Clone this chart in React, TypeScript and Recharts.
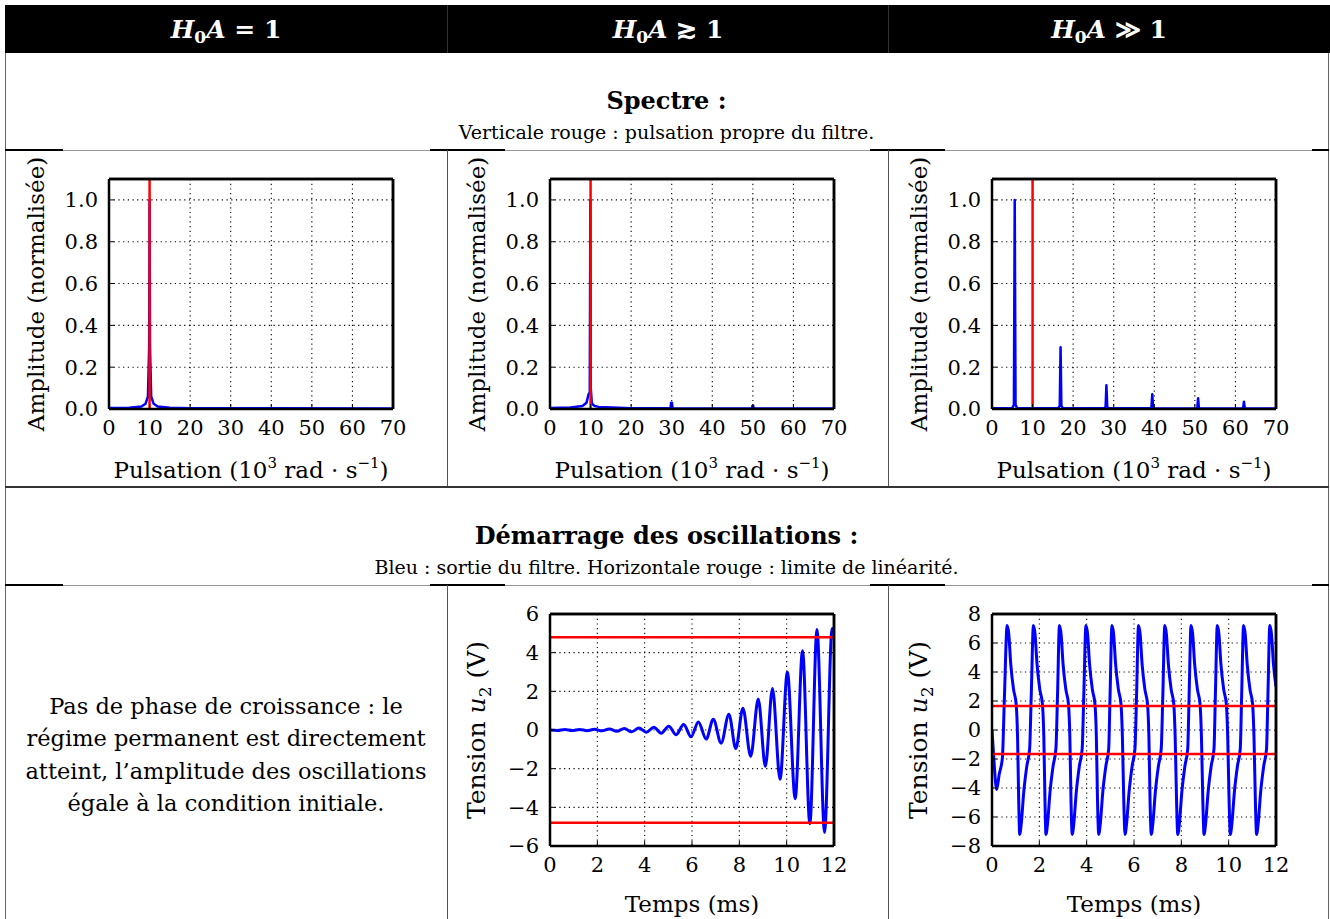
import React from 'react';
import { LineChart, Line, XAxis, YAxis, CartesianGrid, ReferenceLine } from 'recharts';

const FONT = '"DejaVu Serif", "Liberation Serif", serif';

// ---------- tick labels ----------
const pulsationTicks = [0, 10, 20, 30, 40, 50, 60, 70];
const amplitudeTicks = [0, 0.2, 0.4, 0.6, 0.8, 1.0];
const timeTicks = [0, 2, 4, 6, 8, 10, 12];
const tensionTicksA = [-6, -4, -2, 0, 2, 4, 6];
const tensionTicksB = [-8, -6, -4, -2, 0, 2, 4, 6, 8];

// ---------- header / texts ----------
const headerRelations = ['=', '\u2273', '\u226B'];
const spectreTitle = 'Spectre :';
const spectreSub = 'Verticale rouge : pulsation propre du filtre.';
const demarrageTitle = 'Démarrage des oscillations :';
const demarrageSub = 'Bleu : sortie du filtre. Horizontale rouge : limite de linéarité.';
const leftParagraph = [
  'Pas de phase de croissance : le',
  'régime permanent est directement',
  'atteint, l\u2019amplitude des oscillations',
  'égale à la condition initiale.',
];

// ---------- spectrum H0A = 1 ----------
const spec1Omega = [0, 5, 8, 9, 9.6, 9.9, 10, 10.1, 10.4, 11, 12, 15, 20, 40, 70];
const spec1Amp = [0.005, 0.006, 0.012, 0.025, 0.06, 0.3, 1.0, 0.3, 0.06, 0.025, 0.012, 0.006, 0.004, 0.003, 0.002];

// ---------- spectrum H0A >~ 1 ----------
const spec2Omega = [0, 5, 8, 9, 9.5, 9.8, 9.95, 10.05, 10.3, 10.6, 11, 12, 20, 29.7, 29.85, 30.05, 30.2, 49.8, 49.9, 50.1, 50.2, 70];
const spec2Amp = [0.005, 0.007, 0.014, 0.03, 0.07, 0.08, 1.0, 0.1, 0.03, 0.02, 0.015, 0.01, 0.004, 0.004, 0.03, 0.03, 0.004, 0.002, 0.015, 0.015, 0.002, 0.002];

// ---------- spectrum H0A >> 1 ----------
const spec3Omega = [0, 5.0, 5.4, 5.6, 5.8, 6.2, 16.3, 16.7, 16.9, 17.1, 17.5, 27.6, 28.0, 28.2, 28.4, 28.8, 38.9, 39.3, 39.5, 39.7, 40.1, 50.2, 50.6, 50.8, 51.0, 51.4, 61.5, 61.9, 62.1, 62.3, 62.7, 70];
const spec3Amp = [0.004, 0.005, 0.02, 1.0, 0.02, 0.005, 0.004, 0.015, 0.295, 0.015, 0.004, 0.003, 0.01, 0.113, 0.01, 0.003, 0.003, 0.008, 0.07, 0.008, 0.003, 0.002, 0.006, 0.051, 0.006, 0.002, 0.002, 0.005, 0.035, 0.005, 0.002, 0.002];

const filterOmega = 10;

// ---------- start-up H0A >~ 1 ----------
const osc1Time = [0, 0.31, 0.63, 0.94, 1.25, 1.57, 1.88, 2.19, 2.51, 2.82, 3.14, 3.45, 3.76, 4.07, 4.39, 4.70, 5.02, 5.33, 5.65, 5.96, 6.27, 6.60, 6.90, 7.23, 7.56, 7.85, 8.15, 8.48, 8.80, 9.10, 9.40, 9.72, 10.03, 10.36, 10.67, 10.98, 11.28, 11.60, 11.92, 12.0];
const osc1Volt = [0, -0.025, 0.025, -0.03, 0.03, -0.035, 0.04, -0.045, 0.055, -0.065, 0.075, -0.09, 0.1, -0.12, 0.14, -0.17, 0.2, -0.24, 0.29, -0.35, 0.42, -0.47, 0.56, -0.68, 0.82, -0.96, 1.12, -1.36, 1.6, -1.88, 2.15, -2.55, 3.0, -3.55, 4.1, -4.85, 5.2, -5.3, 5.25, 5.1];
const osc1Limit = 4.8;

// ---------- start-up H0A >> 1 ----------
const osc2Time = [
  0, 0.07, 0.20, 0.30, 0.44, 0.52, 0.64,
  0.71, 0.79, 0.91, 1.02, 1.08, 1.13, 1.17, 1.24, 1.34, 1.47, 1.59, 1.66, 1.75,
  1.82, 1.90, 2.02, 2.13, 2.19, 2.24, 2.28, 2.35, 2.45, 2.58, 2.70, 2.77, 2.85,
  2.92, 3.00, 3.12, 3.23, 3.29, 3.34, 3.39, 3.46, 3.56, 3.69, 3.81, 3.88, 3.97,
  4.04, 4.12, 4.24, 4.35, 4.41, 4.46, 4.51, 4.58, 4.68, 4.81, 4.93, 4.99, 5.07,
  5.14, 5.22, 5.34, 5.45, 5.51, 5.57, 5.62, 5.69, 5.79, 5.92, 6.04, 6.11, 6.19,
  6.26, 6.34, 6.46, 6.57, 6.63, 6.68, 6.73, 6.80, 6.90, 7.03, 7.15, 7.22, 7.30,
  7.37, 7.45, 7.57, 7.68, 7.74, 7.80, 7.85, 7.92, 8.02, 8.15, 8.27, 8.33, 8.41,
  8.48, 8.56, 8.68, 8.79, 8.85, 8.91, 8.96, 9.03, 9.13, 9.26, 9.38, 9.44, 9.52,
  9.59, 9.67, 9.79, 9.90, 9.96, 10.02, 10.07, 10.14, 10.24, 10.37, 10.49, 10.55, 10.63,
  10.70, 10.78, 10.90, 11.01, 11.07, 11.13, 11.18, 11.25, 11.35, 11.48, 11.60, 11.66, 11.74,
  11.81, 11.89, 12.0,
];
const osc2Volt = [
  0, -1.8, -4.1, -3.1, -1.9, 2.0, 7.2,
  6.6, 4.6, 2.8, 1.8, -0.5, -5.0, -7.2, -6.4, -4.3, -2.5, -1.3, 2.5, 7.2,
  6.6, 4.6, 2.8, 1.8, -0.5, -5.0, -7.2, -6.4, -4.3, -2.5, -1.3, 2.5, 7.2,
  6.6, 4.6, 2.8, 1.8, -0.5, -5.0, -7.2, -6.4, -4.3, -2.5, -1.3, 2.5, 7.2,
  6.6, 4.6, 2.8, 1.8, -0.5, -5.0, -7.2, -6.4, -4.3, -2.5, -1.3, 2.5, 7.2,
  6.6, 4.6, 2.8, 1.8, -0.5, -5.0, -7.2, -6.4, -4.3, -2.5, -1.3, 2.5, 7.2,
  6.6, 4.6, 2.8, 1.8, -0.5, -5.0, -7.2, -6.4, -4.3, -2.5, -1.3, 2.5, 7.2,
  6.6, 4.6, 2.8, 1.8, -0.5, -5.0, -7.2, -6.4, -4.3, -2.5, -1.3, 2.5, 7.2,
  6.6, 4.6, 2.8, 1.8, -0.5, -5.0, -7.2, -6.4, -4.3, -2.5, -1.3, 2.5, 7.2,
  6.6, 4.6, 2.8, 1.8, -0.5, -5.0, -7.2, -6.4, -4.3, -2.5, -1.3, 2.5, 7.2,
  6.6, 4.6, 2.8, 1.8, -0.5, -5.0, -7.2, -6.4, -4.3, -2.5, -1.3, 2.5, 7.2,
  6.6, 4.6, 3.0,
];
const osc2Limit = 1.65;

type Pt = { x: number; y: number };
const zip = (xs: number[], ys: number[]): Pt[] => xs.map((x, i) => ({ x, y: ys[i] }));

const fmtAmp = (v: number) => v.toFixed(1);
const fmtInt = (v: number) => (v < 0 ? '\u2212' + Math.abs(v) : String(v));

const ML = 100;
const MT = 32;
const MR = 20;
const XH = 80;
const BLUE = '#0000ff';
const RED = '#ff0000';

type PanelProps = {
  left: number;
  top: number;
  plotW: number;
  plotH: number;
  data: Pt[];
  xDomain: [number, number];
  xTicks: number[];
  yDomain: [number, number];
  yTicks: number[];
  yFmt: (v: number) => string;
  curve: 'linear' | 'monotone';
  vLines: number[];
  hLines: number[];
  xLabel: 'pulsation' | 'temps';
  yLabel: 'amplitude' | 'tension';
  xLabelGap: number;
  lineWidth: number;
};

function Panel(p: PanelProps) {
  const W = ML + p.plotW + MR;
  const H = MT + p.plotH + XH;
  const frame = { stroke: '#000', strokeWidth: 2.5 };
  const tickStyle = { fill: '#000', fontSize: 21, fontFamily: FONT };
  const cx = ML + p.plotW / 2;
  const xly = MT + p.plotH + p.xLabelGap;
  const ylx = ML - 65;
  const yly = MT + p.plotH / 2;
  const xLabelEl = () =>
    p.xLabel === 'pulsation' ? (
      <text x={cx} y={xly} textAnchor="middle" fontFamily={FONT} fontSize={23} fill="#000">
        Pulsation (10
        <tspan dy={-10} fontSize={15}>3</tspan>
        <tspan dy={10}> rad · s</tspan>
        <tspan dy={-10} fontSize={15}>−1</tspan>
        <tspan dy={10}>)</tspan>
      </text>
    ) : (
      <text x={cx} y={xly} textAnchor="middle" fontFamily={FONT} fontSize={23} fill="#000">
        Temps (ms)
      </text>
    );
  const yLabelEl = () =>
    p.yLabel === 'amplitude' ? (
      <text x={ylx} y={yly} transform={`rotate(-90 ${ylx} ${yly})`} textAnchor="middle" fontFamily={FONT} fontSize={23} fill="#000">
        Amplitude (normalisée)
      </text>
    ) : (
      <text x={ylx} y={yly} transform={`rotate(-90 ${ylx} ${yly})`} textAnchor="middle" fontFamily={FONT} fontSize={25} fill="#000">
        Tension <tspan fontStyle="italic">u</tspan>
        <tspan dy={6} fontSize={17}>2</tspan>
        <tspan dy={-6}> (V)</tspan>
      </text>
    );
  return (
    <div style={{ position: 'absolute', left: p.left - ML, top: p.top - MT, width: W, height: H }}>
      <LineChart width={W} height={H} data={p.data} margin={{ top: MT - 1, right: MR - 1, left: 0, bottom: 0 }}>
        <CartesianGrid stroke="#000" strokeDasharray="1.2 3.5" strokeWidth={1.1} />
        <XAxis
          dataKey="x"
          type="number"
          domain={p.xDomain}
          ticks={p.xTicks}
          allowDataOverflow
          interval={0}
          height={XH}
          tickSize={-5}
          tickMargin={16}
          axisLine={frame}
          tickLine={{ stroke: '#000', strokeWidth: 1 }}
          tick={tickStyle}
          label={xLabelEl}
        />
        <XAxis
          xAxisId="top"
          orientation="top"
          type="number"
          domain={p.xDomain}
          ticks={p.xTicks}
          allowDataOverflow
          interval={0}
          height={1}
          tickSize={-5}
          axisLine={frame}
          tickLine={{ stroke: '#000', strokeWidth: 1 }}
          tick={false}
        />
        <YAxis
          type="number"
          domain={p.yDomain}
          ticks={p.yTicks}
          allowDataOverflow
          interval={0}
          width={ML}
          tickSize={-5}
          tickMargin={16}
          tickFormatter={p.yFmt}
          axisLine={frame}
          tickLine={{ stroke: '#000', strokeWidth: 1 }}
          tick={tickStyle}
          label={yLabelEl}
        />
        <YAxis
          yAxisId="right"
          orientation="right"
          type="number"
          domain={p.yDomain}
          ticks={p.yTicks}
          allowDataOverflow
          interval={0}
          width={1}
          tickSize={-5}
          axisLine={frame}
          tickLine={{ stroke: '#000', strokeWidth: 1 }}
          tick={false}
        />
        <Line
          dataKey="y"
          type={p.curve}
          stroke={BLUE}
          strokeWidth={p.lineWidth}
          strokeLinejoin="round"
          dot={false}
          activeDot={false}
          isAnimationActive={false}
        />
        {p.vLines.map((v) => (
          <ReferenceLine key={'v' + v} x={v} stroke={RED} strokeWidth={2.5} />
        ))}
        {p.hLines.map((v) => (
          <ReferenceLine key={'h' + v} y={v} stroke={RED} strokeWidth={2.5} />
        ))}
        <ReferenceLine x={p.xDomain[1]} stroke="#000" strokeWidth={2.5} />
        <ReferenceLine y={p.yDomain[1]} stroke="#000" strokeWidth={2.5} />
      </LineChart>
    </div>
  );
}

const abs = (l: number, t: number, w: number, h: number, bg: string): React.CSSProperties => ({
  position: 'absolute',
  left: l,
  top: t,
  width: w,
  height: h,
  background: bg,
});

function HeaderLabel({ rel, center }: { rel: string; center: number }) {
  return (
    <div
      style={{
        position: 'absolute',
        left: center - 150,
        width: 300,
        top: 14,
        lineHeight: '32px',
        textAlign: 'center',
        color: '#fff',
        fontFamily: FONT,
        fontWeight: 'bold',
        fontSize: 25,
      }}
    >
      <span style={{ fontStyle: 'italic' }}>H</span>
      <span style={{ fontSize: 17, position: 'relative', top: 5 }}>0</span>
      <span style={{ fontStyle: 'italic' }}>A</span> {rel} 1
    </div>
  );
}

function CenterText({ text, y, size, bold }: { text: string; y: number; size: number; bold?: boolean }) {
  return (
    <div
      style={{
        position: 'absolute',
        left: 5,
        width: 1323,
        top: y - 15,
        lineHeight: '30px',
        textAlign: 'center',
        fontFamily: FONT,
        fontWeight: bold ? 'bold' : 'normal',
        fontSize: size,
        color: '#000',
      }}
    >
      {text}
    </div>
  );
}

export default function App() {
  const colCenters = [226, 668, 1109];
  return (
    <div style={{ position: 'absolute', left: 0, top: 0, width: 1330, height: 919, background: '#fff', overflow: 'hidden' }}>
      {/* header band */}
      <div style={abs(5, 5, 1325, 48, '#000')} />
      <div style={abs(447, 5, 1, 48, '#333')} />
      <div style={abs(888, 5, 1, 48, '#333')} />
      {headerRelations.map((r, i) => (
        <HeaderLabel key={i} rel={r} center={colCenters[i]} />
      ))}

      {/* table borders */}
      <div style={abs(5, 53, 1, 866, '#666')} />
      <div style={abs(1328, 53, 1, 866, '#666')} />
      <div style={abs(5, 150, 1323, 1, '#999')} />
      <div style={abs(5, 149, 58, 2, '#000')} />
      <div style={abs(430, 149, 75, 2, '#000')} />
      <div style={abs(870, 149, 75, 2, '#000')} />
      <div style={abs(1312, 149, 17, 2, '#000')} />
      <div style={abs(447, 150, 1, 337, '#555')} />
      <div style={abs(888, 150, 1, 337, '#555')} />
      <div style={abs(5, 486, 1324, 2, '#333')} />
      <div style={abs(5, 585, 1323, 1, '#999')} />
      <div style={abs(5, 584, 58, 2, '#000')} />
      <div style={abs(430, 584, 75, 2, '#000')} />
      <div style={abs(870, 584, 75, 2, '#000')} />
      <div style={abs(1312, 584, 17, 2, '#000')} />
      <div style={abs(447, 585, 1, 334, '#555')} />
      <div style={abs(888, 585, 1, 334, '#555')} />

      {/* row titles */}
      <CenterText text={spectreTitle} y={101} size={24} bold />
      <CenterText text={spectreSub} y={132} size={19} />
      <CenterText text={demarrageTitle} y={536} size={24} bold />
      <CenterText text={demarrageSub} y={567} size={19} />

      {/* left paragraph */}
      <div
        style={{
          position: 'absolute',
          left: 5,
          width: 442,
          top: 690,
          lineHeight: '32.3px',
          textAlign: 'center',
          fontFamily: FONT,
          fontSize: 22.5,
          color: '#000',
          whiteSpace: 'nowrap',
        }}
      >
        {leftParagraph.map((l, i) => (
          <div key={i}>{l}</div>
        ))}
      </div>

      {/* spectra */}
      <Panel left={109} top={179} plotW={284} plotH={230} data={zip(spec1Omega, spec1Amp)} xDomain={[0, 70]} xTicks={pulsationTicks}
        yDomain={[0, 1.1]} yTicks={amplitudeTicks} yFmt={fmtAmp} curve="linear" vLines={[filterOmega]} hLines={[]}
        xLabel="pulsation" yLabel="amplitude" xLabelGap={69} lineWidth={2.5} />
      <Panel left={550} top={179} plotW={284} plotH={230} data={zip(spec2Omega, spec2Amp)} xDomain={[0, 70]} xTicks={pulsationTicks}
        yDomain={[0, 1.1]} yTicks={amplitudeTicks} yFmt={fmtAmp} curve="linear" vLines={[filterOmega]} hLines={[]}
        xLabel="pulsation" yLabel="amplitude" xLabelGap={69} lineWidth={2.5} />
      <Panel left={992} top={179} plotW={284} plotH={230} data={zip(spec3Omega, spec3Amp)} xDomain={[0, 70]} xTicks={pulsationTicks}
        yDomain={[0, 1.1]} yTicks={amplitudeTicks} yFmt={fmtAmp} curve="linear" vLines={[filterOmega]} hLines={[]}
        xLabel="pulsation" yLabel="amplitude" xLabelGap={69} lineWidth={2.5} />

      {/* start-up */}
      <Panel left={550} top={614} plotW={284} plotH={232} data={zip(osc1Time, osc1Volt)} xDomain={[0, 12]} xTicks={timeTicks}
        yDomain={[-6, 6]} yTicks={tensionTicksA} yFmt={fmtInt} curve="monotone" vLines={[]} hLines={[osc1Limit, -osc1Limit]}
        xLabel="temps" yLabel="tension" xLabelGap={66} lineWidth={3} />
      <Panel left={992} top={614} plotW={284} plotH={232} data={zip(osc2Time, osc2Volt)} xDomain={[0, 12]} xTicks={timeTicks}
        yDomain={[-8, 8]} yTicks={tensionTicksB} yFmt={fmtInt} curve="monotone" vLines={[]} hLines={[osc2Limit, -osc2Limit]}
        xLabel="temps" yLabel="tension" xLabelGap={66} lineWidth={3} />
    </div>
  );
}
